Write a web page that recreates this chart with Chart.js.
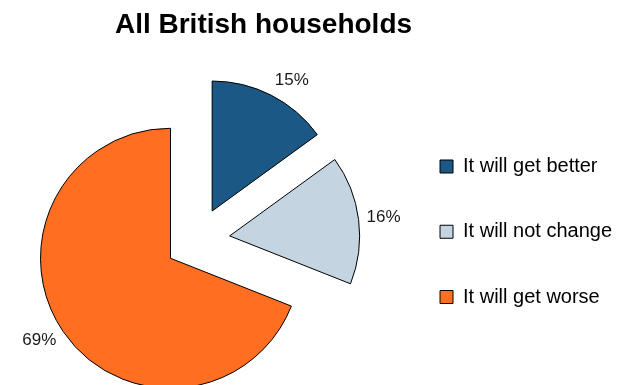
<!DOCTYPE html>
<html>
<head>
<meta charset="utf-8">
<script src="https://cdn.jsdelivr.net/npm/chart.js@4/dist/chart.umd.min.js"></script>
<style>
  html, body { margin: 0; padding: 0; background: #fff; }
  #wrap { width: 630px; height: 385px; position: relative; }
</style>
</head>
<body>
<div id="wrap"><canvas id="pieChart"></canvas></div>
<script>
// chart data
const chartTitle = 'All British households';
const categories = ['It will get better', 'It will not change', 'It will get worse'];
const shares = [15, 16, 69];
const sliceColors = ['#1b5886', '#c4d4e1', '#ff6e21'];

const FONT = "'Liberation Sans', Arial, Helvetica, sans-serif";
const EXPLODE = 32.5;   // how far every slice is pulled out (px)

// Chart.js "offset" also grows the big slice, so pull slices out by hand
const explodePlugin = {
  id: 'explode',
  beforeDatasetsDraw(chart) {
    chart.getDatasetMeta(0).data.forEach(arc => {
      if (arc._exploded) return;
      const baseDraw = arc.draw;
      arc._exploded = true;
      arc.draw = function (ctx) {
        const mid = (this.startAngle + this.endAngle) / 2;
        ctx.save();
        ctx.translate(Math.cos(mid) * EXPLODE, Math.sin(mid) * EXPLODE);
        baseDraw.call(this, ctx);
        ctx.restore();
      };
    });
  }
};

// percentage labels just outside each slice
const pctLabels = {
  id: 'pctLabels',
  afterDatasetsDraw(chart) {
    const ctx = chart.ctx;
    const meta = chart.getDatasetMeta(0);
    ctx.save();
    ctx.font = '17px ' + FONT;
    ctx.fillStyle = '#1a1a1a';
    ctx.textAlign = 'center';
    ctx.textBaseline = 'middle';
    meta.data.forEach((arc, i) => {
      const mid = (arc.startAngle + arc.endAngle) / 2;
      const dx = Math.cos(mid), dy = Math.sin(mid);
      const r = arc.outerRadius + EXPLODE + 8;
      const txt = shares[i] + '%';
      const w = ctx.measureText(txt).width;
      ctx.fillText(txt, arc.x + dx * r + Math.sign(dx) * w / 2, arc.y + dy * r + dy * 8.5);
    });
    ctx.restore();
  }
};

new Chart(document.getElementById('pieChart'), {
  type: 'pie',
  data: {
    labels: categories,
    datasets: [{
      data: shares,
      backgroundColor: sliceColors,
      borderColor: '#000',
      borderWidth: 1,
      radius: 130,
      clip: false
    }]
  },
  options: {
    responsive: true,
    maintainAspectRatio: false,
    animation: false,
    // negative left only moves the full-width title, the plot area stays at 0
    layout: { padding: { left: -95, right: 8, top: 0, bottom: 16.25 } },
    plugins: {
      title: {
        display: true,
        text: chartTitle,
        color: '#000',
        font: { family: FONT, size: 28, weight: 'bold' },
        padding: { top: 8.2, bottom: 69.45 }
      },
      legend: {
        position: 'right',
        align: 'start',
        fullSize: false,
        maxWidth: 240,
        labels: {
          font: { family: FONT, size: 20 },
          color: '#000',
          boxWidth: 13,
          boxHeight: 13,
          padding: 45.25
        }
      },
      tooltip: { enabled: false }
    }
  },
  plugins: [explodePlugin, pctLabels]
});
</script>
</body>
</html>
